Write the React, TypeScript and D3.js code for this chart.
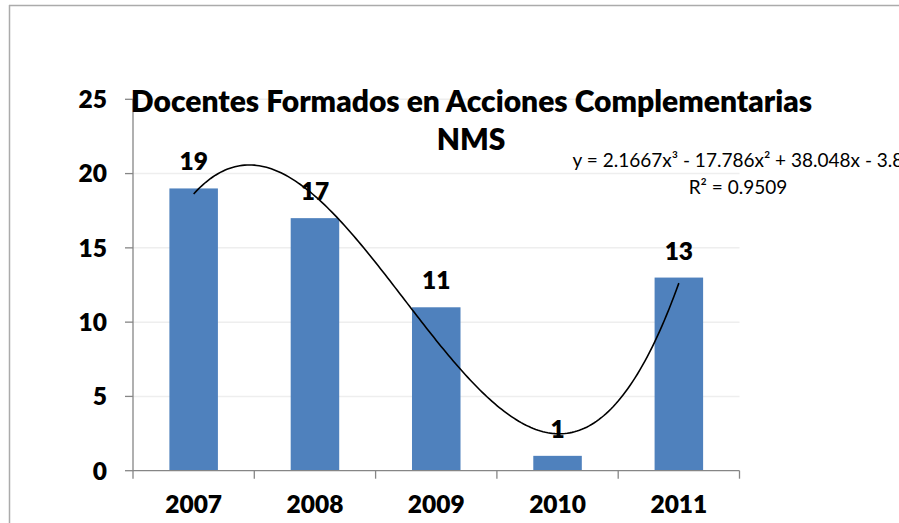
import React from "react";
import * as d3 from "d3";

const categories = ["2007", "2008", "2009", "2010", "2011"];
const values = [19, 17, 11, 1, 13];
const yTicks = [0, 5, 10, 15, 20, 25];
const trendCoefs = [2.1667, -17.786, 38.048, -3.8]; // x^3, x^2, x, const
const titleLines = ["Docentes Formados en Acciones Complementarias", "NMS"];
const equationLines = ["y = 2.1667x³ - 17.786x² + 38.048x - 3.8", "R² = 0.9509"];

const W = 899;
const H = 523;
const FONT = "Lato, 'Open Sans', sans-serif";

export default function App() {
  const plotLeft = 133;
  const plotRight = 739.5;
  const plotTop = 99.3;
  const plotBottom = 470.7;

  const x = d3.scaleBand<string>().domain(categories).range([plotLeft, plotRight]).paddingInner(0.6).paddingOuter(0.3);
  const band = d3.scaleBand<string>().domain(categories).range([plotLeft, plotRight]);
  const y = d3.scaleLinear().domain([0, 25]).range([plotBottom, plotTop]);

  const xt = d3.scaleLinear().domain([1, 5]).range([
    (band("2007") as number) + band.bandwidth() / 2,
    (band("2011") as number) + band.bandwidth() / 2,
  ]);
  const poly = (v: number) =>
    trendCoefs[0] * v * v * v + trendCoefs[1] * v * v + trendCoefs[2] * v + trendCoefs[3];
  const samples = d3.range(1, 5.0001, 0.02);
  const line = d3
    .line<number>()
    .x((d) => xt(d))
    .y((d) => y(poly(d)))
    .curve(d3.curveLinear);

  const axisColor = "#868686";
  const gridColor = "#eeeeee";
  const labelSize = 24.5;
  const labelWeight = 800;

  const boundaries = [...categories.map((c) => band(c) as number), plotRight];

  return (
    <svg
      width={W}
      height={H}
      style={{ position: "absolute", left: 0, top: 0, background: "#fff" }}
      fontFamily={FONT}
    >
      <rect x={0} y={0} width={W} height={H} fill="#fff" />
      {/* chart border */}
      <line x1={9} x2={W} y1={5.5} y2={5.5} stroke="#ababab" strokeWidth={1.5} />
      <line x1={9.5} x2={9.5} y1={5} y2={H} stroke="#ababab" strokeWidth={1.5} />

      {/* gridlines */}
      {yTicks.slice(1).map((t) => (
        <line key={t} x1={plotLeft} x2={plotRight} y1={y(t)} y2={y(t)} stroke={gridColor} strokeWidth={1.5} />
      ))}

      {/* bars */}
      {categories.map((c, i) => (
        <rect
          key={c}
          x={x(c)}
          y={y(values[i])}
          width={x.bandwidth()}
          height={plotBottom - y(values[i])}
          fill="#4f81bd"
        />
      ))}

      {/* axes */}
      <line x1={plotLeft} x2={plotLeft} y1={plotTop} y2={plotBottom} stroke={axisColor} strokeWidth={1.3} />
      <line x1={plotLeft} x2={plotRight} y1={plotBottom} y2={plotBottom} stroke={axisColor} strokeWidth={1.3} />
      {yTicks.map((t) => (
        <g key={t}>
          <line x1={plotLeft - 8} x2={plotLeft} y1={y(t)} y2={y(t)} stroke={axisColor} strokeWidth={1.3} />
          <text
            x={107}
            y={y(t)}
            dy="0.36em"
            textAnchor="end"
            fontSize={labelSize}
            fontWeight={labelWeight}
            fill="#000"
          >
            {t}
          </text>
        </g>
      ))}
      {boundaries.map((b, i) => (
        <line key={i} x1={b} x2={b} y1={plotBottom} y2={plotBottom + 8} stroke={axisColor} strokeWidth={1.3} />
      ))}
      {categories.map((c) => (
        <text
          key={c}
          x={(band(c) as number) + band.bandwidth() / 2}
          y={513}
          textAnchor="middle"
          fontSize={labelSize}
          fontWeight={labelWeight}
          fill="#000"
        >
          {c}
        </text>
      ))}

      {/* data labels */}
      {categories.map((c, i) => (
        <text
          key={c}
          x={(band(c) as number) + band.bandwidth() / 2}
          y={y(values[i]) - 18}
          textAnchor="middle"
          fontSize={labelSize}
          fontWeight={labelWeight}
          fill="#000"
        >
          {values[i]}
        </text>
      ))}

      {/* trendline */}
      <path d={line(samples) || ""} fill="none" stroke="#000" strokeWidth={1.6} />

      {/* title */}
      <text x={471.5} y={111.7} textAnchor="middle" fontSize={30} fontWeight={labelWeight} fill="#000">
        {titleLines[0]}
      </text>
      <text x={471} y={150} textAnchor="middle" fontSize={30} fontWeight={labelWeight} fill="#000">
        {titleLines[1]}
      </text>

      {/* trendline equation */}
      <text x={738} y={167} textAnchor="middle" fontSize={19} fill="#000">
        {equationLines[0]}
      </text>
      <text x={738} y={194} textAnchor="middle" fontSize={19} fill="#000">
        {equationLines[1]}
      </text>
    </svg>
  );
}
